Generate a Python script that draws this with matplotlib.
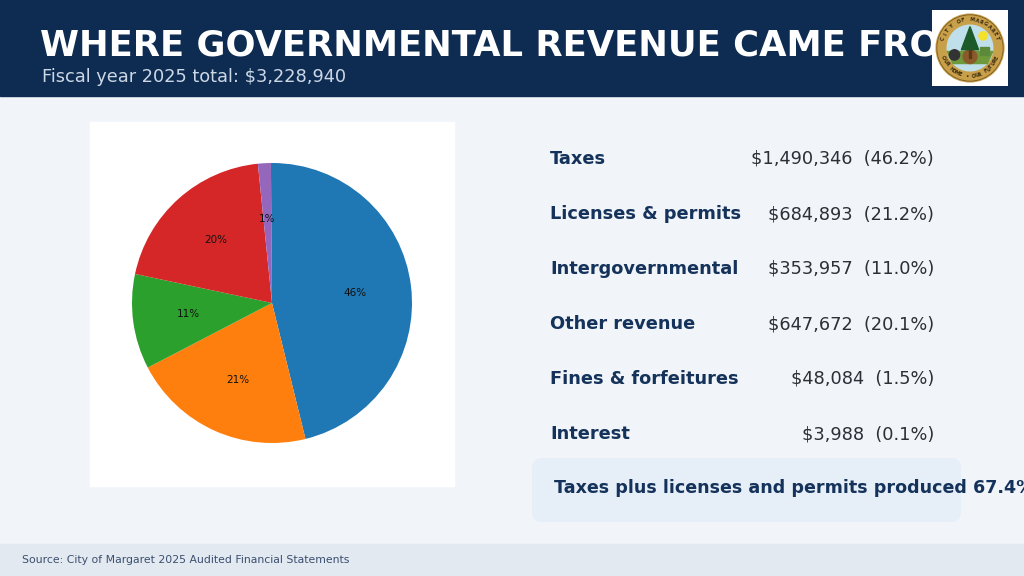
import numpy as np
import matplotlib
matplotlib.use("Agg")
import matplotlib.pyplot as plt
from matplotlib.patches import Rectangle, FancyBboxPatch, Circle, Polygon

# data
categories = ["Taxes", "Licenses & permits", "Intergovernmental",
              "Other revenue", "Fines & forfeitures", "Interest"]
amounts = [1490346, 684893, 353957, 647672, 48084, 3988]
total = 3228940

NAVY = "#0e2c52"
BG = "#f1f5fa"
W, H = 1024, 576

fig = plt.figure(figsize=(W / 100, H / 100), dpi=100)
fig.patch.set_facecolor(BG)

# full-figure axes in pixel coords (y down)
bg = fig.add_axes([0, 0, 1, 1])
bg.set_xlim(0, W)
bg.set_ylim(H, 0)
bg.axis("off")

# header band
bg.add_patch(Rectangle((0, 0), W, 96, color=NAVY, zorder=1))
bg.text(40, 55, "WHERE GOVERNMENTAL REVENUE CAME FROM", color="white",
        fontsize=25.5, fontweight="bold", va="baseline", ha="left", zorder=2)
bg.text(42, 82, f"Fiscal year 2025 total: ${total:,}", color="#cdd8e6",
        fontsize=12.8, va="baseline", ha="left", zorder=2)

# footer
bg.add_patch(Rectangle((0, 544), W, 32, color="#e3e9f1", zorder=1))
bg.text(22, 563, "Source: City of Margaret 2025 Audited Financial Statements",
        color="#3a4f6e", fontsize=7.8, va="baseline", ha="left", zorder=2)

# white panel behind pie
bg.add_patch(Rectangle((90, 122), 364, 364, color="white", zorder=1))

# right-hand list
row_y = 164
for cat, amt in zip(categories, amounts):
    pct = amt / total * 100
    bg.text(550, row_y, cat, color="#14325a", fontsize=12.8, fontweight="bold",
            va="baseline", ha="left", zorder=2)
    bg.text(934, row_y, f"${amt:,}  ({pct:.1f}%)", color="#2b2f36",
            fontsize=12.8, va="baseline", ha="right", zorder=2)
    row_y += 55

# highlight box
bg.add_patch(FancyBboxPatch((540, 466), 413, 48,
                            boxstyle="round,pad=8,rounding_size=10",
                            facecolor="#e6eef7", edgecolor="none", zorder=1))
share = (amounts[0] + amounts[1]) / total * 100
bg.text(554, 493, f"Taxes plus licenses and permits produced {share:.1f}% of revenue",
        color="#14325a", fontsize=12.6, fontweight="bold",
        va="baseline", ha="left", zorder=2)

# pie
pie_ax = fig.add_axes([132 / W, (H - 443) / H, 280 / W, 280 / H])
pie_ax.pie(amounts, startangle=90, counterclock=False,
           autopct=lambda p: f"{p:.0f}%" if p >= 1 else "",
           pctdistance=0.6, textprops={"fontsize": 7.5, "color": "#111111"})
pie_ax.set_xlim(-1, 1)
pie_ax.set_ylim(-1, 1)
pie_ax.set_aspect("equal")

# logo
logo = fig.add_axes([932 / W, (H - 86) / H, 76 / W, 76 / H])
logo.set_xlim(-1.1, 1.1)
logo.set_ylim(-1.1, 1.1)
logo.set_aspect("equal")
logo.set_facecolor("white")
logo.set_xticks([])
logo.set_yticks([])
for s in logo.spines.values():
    s.set_visible(False)
logo.add_patch(Circle((0, 0), 0.98, color="#c9a04a"))
logo.add_patch(Circle((0, 0), 0.96, fill=False, ec="#7a5a1e", lw=0.6))
logo.add_patch(Circle((0, 0), 0.66, color="#bfe0ea"))
logo.add_patch(Polygon([[-0.66, -0.1], [0.66, -0.1], [0.5, -0.45], [-0.5, -0.45]],
                       color="#6f9a3c"))
logo.add_patch(Circle((0, -0.25), 0.2, color="#8b5a2b", zorder=1))
logo.add_patch(Circle((0.38, 0.35), 0.12, color="#f5e02a"))
logo.add_patch(Polygon([[0, 0.62], [-0.25, -0.05], [0.25, -0.05]], color="#1d5a2a"))
logo.add_patch(Rectangle((-0.04, -0.3), 0.08, 0.25, color="#5a3a1a"))
logo.add_patch(Rectangle((0.3, -0.2), 0.25, 0.22, color="#5d8a3a"))
logo.add_patch(Circle((-0.45, -0.2), 0.15, color="#333333"))

def arc_text(ax, txt, r, a0, a1, top=True):
    angles = np.linspace(a0, a1, len(txt))
    for ch, a in zip(txt, angles):
        rad = np.deg2rad(a)
        rot = a - 90 if top else a + 90
        ax.text(r * np.cos(rad), r * np.sin(rad), ch, fontsize=3.6,
                fontweight="bold", color="#3a2a10", rotation=rot,
                ha="center", va="center")

arc_text(logo, "CITY OF MARGARET", 0.82, 160, 20, top=True)
arc_text(logo, "OUR HOME \u2022 OUR FUTURE", 0.82, 200, 340, top=False)

fig.savefig("out.png", dpi=100, facecolor=fig.get_facecolor())
